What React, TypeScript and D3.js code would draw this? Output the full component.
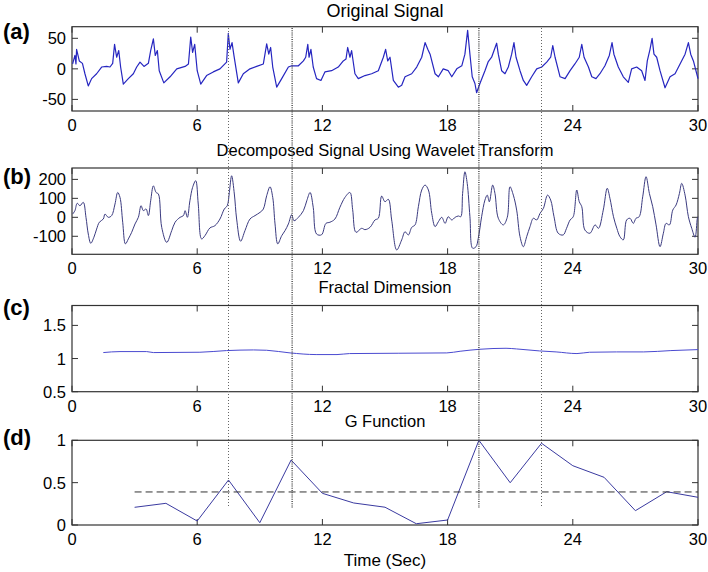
import React from "react";
import * as d3 from "d3";

// ---------- DATA ----------
const xTicks = [0, 6, 12, 18, 24, 30];
const eventTimes = [7.5, 10.55, 19.5, 22.5];
const eventHeavy = [false, true, true, false];

// (a) Original signal
const tA = [0.03,0.14,0.19,0.22,0.35,0.5,0.62,0.78,0.94,1.18,1.42,1.66,1.82,1.95,2.04,2.14,2.24,2.33,2.46,2.7,2.94,3.1,3.26,3.45,3.66,3.77,3.9,3.99,4.09,4.18,4.4,4.7,5.02,5.42,5.58,5.69,5.78,5.88,6.0,6.17,6.45,6.77,7.09,7.41,7.49,7.57,7.67,7.76,7.97,8.21,8.53,8.85,9.17,9.33,9.43,9.52,9.62,9.81,10.05,10.37,10.53,10.85,11.09,11.2,11.3,11.36,11.45,11.56,11.72,11.93,12.12,12.44,12.76,13.0,13.13,13.21,13.32,13.4,13.56,13.72,14.04,14.36,14.68,14.92,15.03,15.13,15.24,15.4,15.64,15.8,15.96,16.28,16.52,16.76,16.92,17.05,17.16,17.4,17.56,17.79,18.03,18.2,18.44,18.68,18.83,18.96,19.07,19.18,19.31,19.39,19.55,19.79,19.95,20.11,20.35,20.43,20.59,20.75,20.91,21.07,21.18,21.28,21.47,21.63,21.79,22.03,22.27,22.51,22.75,22.94,23.04,23.15,23.39,23.63,23.87,24.1,24.31,24.43,24.54,24.75,24.91,25.11,25.3,25.54,25.75,25.88,25.97,26.18,26.42,26.66,26.82,27.06,27.3,27.46,27.57,27.7,27.8,27.89,28.02,28.18,28.42,28.66,28.9,29.14,29.38,29.54,29.65,29.78,29.94,30];
const vA = [8,22,8,32,13,9,-8,-28,-16,-8,3,4,3,9,40,19,30,3,-25,-16,-8,3,11,4,9,30,49,22,30,-3,-23,-13,0,4,8,52,27,40,-3,-25,-11,-5,0,11,58,32,43,22,-23,-8,0,4,8,41,24,35,3,-30,-16,3,5,5,13,19,40,19,32,3,-16,-19,-5,-3,3,13,16,35,19,30,-8,-16,-11,-8,-3,19,32,13,19,-19,-30,-27,-13,-8,3,19,43,32,24,-8,-13,0,-3,-13,0,5,24,63,24,-13,-24,-39,-24,-3,12,19,42,24,-3,-8,3,24,43,19,-3,-19,-27,-13,0,3,11,19,38,19,-13,-16,-3,8,19,40,19,3,-13,-16,-8,5,22,43,24,3,-13,-22,0,3,-3,-19,13,32,50,24,19,-3,-31,-13,-8,8,24,43,24,13,-8,-16];

// (b) Decomposed signal
const tB = [0.03,0.14,0.25,0.38,0.54,0.67,0.78,0.9,1.05,1.18,1.31,1.5,1.58,1.74,1.9,2.06,2.19,2.3,2.43,2.56,2.7,2.86,3.02,3.18,3.31,3.42,3.55,3.66,3.77,3.9,4.03,4.14,4.3,4.54,4.78,4.94,5.18,5.34,5.42,5.53,5.65,5.78,5.93,6.05,6.21,6.37,6.61,6.85,7.09,7.3,7.44,7.54,7.65,7.78,7.89,8.08,8.29,8.53,8.77,9.01,9.17,9.33,9.49,9.62,9.73,9.86,10.05,10.21,10.37,10.53,10.64,10.85,11.09,11.25,11.41,11.56,11.72,11.96,12.17,12.36,12.6,12.84,13.08,13.32,13.45,13.61,13.88,14.04,14.28,14.52,14.68,14.84,15.0,15.16,15.32,15.56,15.8,15.96,16.12,16.28,16.44,16.6,16.76,16.92,17.08,17.24,17.4,17.56,17.72,17.88,18.03,18.2,18.36,18.52,18.63,18.72,18.83,18.94,19.07,19.2,19.36,19.47,19.63,19.79,19.9,20.0,20.16,20.27,20.43,20.67,20.86,20.99,21.15,21.31,21.47,21.63,21.79,21.95,22.11,22.27,22.43,22.59,22.79,22.94,23.1,23.3,23.54,23.7,23.87,24.02,24.19,24.31,24.43,24.58,24.82,25.07,25.23,25.46,25.65,25.78,25.95,26.11,26.26,26.42,26.58,26.74,26.9,27.03,27.18,27.35,27.51,27.67,27.83,27.99,28.18,28.34,28.47,28.63,28.79,28.95,29.11,29.22,29.38,29.54,29.7,29.86,29.97,30];
const vB = [17,35,74,61,79,0,-88,-137,-105,-62,-26,-9,17,0,9,70,131,105,-26,-140,-114,-79,-35,0,61,35,44,9,87,166,131,123,-53,-132,-70,-26,0,9,35,0,87,158,193,70,-114,-97,-56,-44,-9,44,61,131,219,123,-9,-126,-70,-9,9,26,44,114,161,105,-35,-140,-97,-70,-35,14,-18,0,35,87,131,53,-88,-92,-32,-26,-9,53,105,131,40,-79,-58,-65,-53,-14,-5,112,82,95,-14,-172,-119,-76,-93,-53,-40,56,144,170,144,21,-49,-23,0,-32,3,-14,0,7,3,126,240,179,3,-163,-155,-111,3,91,117,82,170,126,-5,-40,0,161,117,38,-102,-155,-102,-49,-5,-14,21,47,117,91,3,-84,-93,-58,-14,3,144,82,56,-67,-84,-40,-58,38,153,100,3,-58,-102,-119,-14,-5,-32,-5,3,108,214,126,56,-40,-155,-84,-32,-40,38,65,126,179,117,3,-58,-105,-5,3];

// (c) Fractal dimension
const tC = [1.5,2.3,3.58,3.9,6.13,7.4,8.7,9.33,10.45,11.7,12.7,13.3,17.96,18.6,19.55,20.8,21.3,22.4,23.2,24.2,24.8,26.1,27.4,28.7,30];
const vC = [1.09,1.105,1.105,1.09,1.095,1.12,1.13,1.125,1.085,1.06,1.06,1.075,1.085,1.11,1.14,1.155,1.145,1.115,1.1,1.075,1.095,1.1,1.1,1.12,1.135];

// (d) G function
const tD = [3,4.5,6,7.5,9,10.5,12,13.5,15,16.5,18,19.5,21,22.5,24,25.5,27,28.5,30];
const vD = [0.209,0.256,0.047,0.531,0.027,0.767,0.374,0.26,0.21,0.015,0.059,1.0,0.499,0.965,0.70,0.563,0.169,0.393,0.327];
const threshold = 0.39;
const thresholdStart = 3;

const yTicksA = [-50, 0, 50];
const yTicksB = [-100, 0, 100, 200];
const yTicksC = [0.5, 1, 1.5];
const yTicksD = [0, 0.5, 1];

// ---------- LAYOUT ----------
const W = 708, H = 572;
const X0 = 72, X1 = 698;
const FONT = "'Liberation Sans', Arial, sans-serif";

type PanelSpec = {
  top: number; bottom: number; domain: [number, number];
  yTicks: number[]; label: string; labelY: number;
  title: string; titleY: number; titleSize: number;
};

const panels: PanelSpec[] = [
  { top: 26.7, bottom: 111, domain: [-69, 69], yTicks: yTicksA, label: "(a)", labelY: 39, title: "Original Signal", titleY: 17, titleSize: 18 },
  { top: 168, bottom: 254.3, domain: [-195, 260], yTicks: yTicksB, label: "(b)", labelY: 184, title: "Decomposed Signal Using Wavelet Transform", titleY: 156, titleSize: 16.5 },
  { top: 305.5, bottom: 391.7, domain: [0.5, 1.8], yTicks: yTicksC, label: "(c)", labelY: 315, title: "Fractal Dimension", titleY: 293, titleSize: 16.5 },
  { top: 440.3, bottom: 525, domain: [0, 1], yTicks: yTicksD, label: "(d)", labelY: 445, title: "G Function", titleY: 427, titleSize: 16.5 },
];

const x = d3.scaleLinear().domain([0, 30]).range([X0, X1]);

function Frame({ p, y }: { p: PanelSpec; y: d3.ScaleLinear<number, number> }) {
  const tl = 6;
  return (
    <g>
      {xTicks.map((t) => (
        <g key={"xt" + t}>
          <line x1={x(t)} x2={x(t)} y1={p.bottom} y2={p.bottom - tl} stroke="#333" strokeWidth={1} />
          <line x1={x(t)} x2={x(t)} y1={p.top} y2={p.top + tl} stroke="#333" strokeWidth={1} />
          <text x={x(t)} y={p.bottom + 20} textAnchor="middle" fontSize={16.5} fontFamily={FONT} fill="#000">{t}</text>
        </g>
      ))}
      {p.yTicks.map((v) => (
        <g key={"yt" + v}>
          <line x1={X0} x2={X0 + tl} y1={y(v)} y2={y(v)} stroke="#333" strokeWidth={1} />
          <line x1={X1} x2={X1 - tl} y1={y(v)} y2={y(v)} stroke="#333" strokeWidth={1} />
          <text x={66} y={y(v) + 6} textAnchor="end" fontSize={16.5} fontFamily={FONT} fill="#000">{v}</text>
        </g>
      ))}
      <rect x={X0} y={p.top} width={X1 - X0} height={p.bottom - p.top} fill="none" stroke="#333" strokeWidth={1.2} />
      <text x={3} y={p.labelY} fontSize={22} fontWeight="bold" fontFamily={FONT} fill="#000">{p.label}</text>
      <text x={(X0 + X1) / 2} y={p.titleY} textAnchor="middle" fontSize={p.titleSize} fontFamily={FONT} fill="#000">{p.title}</text>
    </g>
  );
}

export default function App() {
  const ys = panels.map((p) => d3.scaleLinear().domain(p.domain).range([p.bottom, p.top]));

  const mk = (ts: number[], vs: number[], y: d3.ScaleLinear<number, number>, curve: d3.CurveFactory) =>
    d3.line<number>().x((_, i) => x(ts[i])).y((v) => y(v)).curve(curve)(vs) || "";

  const pathA = mk(tA, vA, ys[0], d3.curveLinear);
  const pathB = mk(tB, vB, ys[1], d3.curveCatmullRom);
  const pathC = mk(tC, vC, ys[2], d3.curveMonotoneX);
  const pathD = mk(tD, vD, ys[3], d3.curveLinear);

  return (
    <svg width={W} height={H} style={{ position: "absolute", left: 0, top: 0, background: "#fff" }}>
      <rect x={0} y={0} width={W} height={H} fill="#fff" />
      {panels.map((p, i) => <Frame key={i} p={p} y={ys[i]} />)}
      <path d={pathA} fill="none" stroke="#2626c0" strokeWidth={1.2} strokeLinejoin="round" />
      <path d={pathB} fill="none" stroke="#3b3b80" strokeWidth={1} />
      <path d={pathC} fill="none" stroke="#4a4ad0" strokeWidth={1} />
      <path d={pathD} fill="none" stroke="#3a3aa0" strokeWidth={1} />
      <line x1={x(thresholdStart)} x2={x(30)} y1={ys[3](threshold)} y2={ys[3](threshold)} stroke="#333" strokeWidth={1} strokeDasharray="7,4" />
      {eventTimes.map((t, i) => (
        <line key={"ev" + i} x1={x(t)} x2={x(t)} y1={28} y2={508}
          stroke={eventHeavy[i] ? "#444" : "#666"} strokeWidth={eventHeavy[i] ? 1.4 : 1}
          strokeDasharray={eventHeavy[i] ? "1,1.2" : "1,2"} />
      ))}
      <text x={(X0 + X1) / 2} y={566} textAnchor="middle" fontSize={17} fontFamily={FONT} fill="#000">Time (Sec)</text>
    </svg>
  );
}
